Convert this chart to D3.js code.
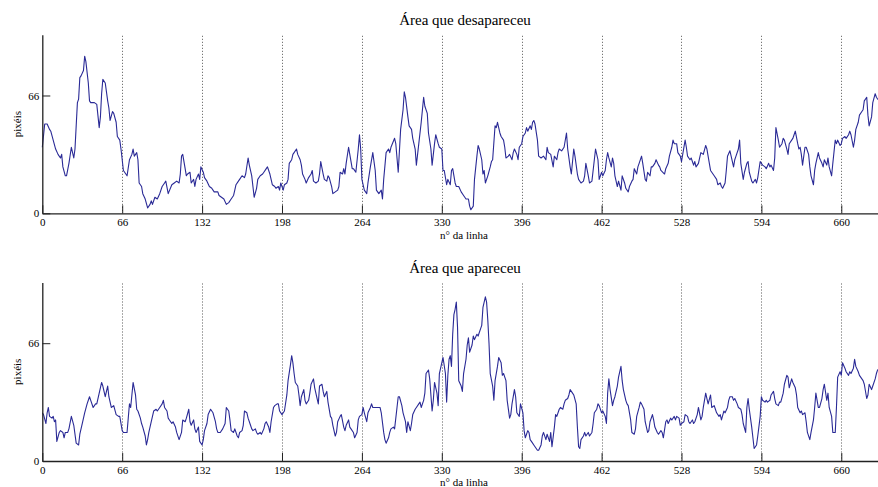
<!DOCTYPE html>
<html>
<head>
<meta charset="utf-8">
<script src="https://cdn.jsdelivr.net/npm/d3@7"></script>
<style>
  html, body { margin: 0; padding: 0; background: #fff; }
  svg { display: block; }
  text { font-family: "Liberation Serif", "Times New Roman", serif; fill: #000; }
</style>
</head>
<body>
<svg id="chart" width="878" height="487"></svg>
<script>
// Pixel counts per image line: [line number, pixels]
const serieDesapareceu = [
  [0,37],[2,50],[4,50],[6,47],[7,46],[9,41],[11,36],[13,33],[15,31],[16,33],[17,26],[19,21],[20,21],[22,28],[24,37],[26,31],[27,36],[28,49],[29,62],[30,64],[31,76],[32,77],[34,80],[35,88],[36,85],[38,73],[39,63],[40,62],[43,62],[45,61],[47,48],[48,54],[49,67],[50,75],[52,73],[54,63],[55,59],[56,52],[58,57],[59,56],[61,51],[62,43],[64,41],[65,36],[67,24],[69,22],[70,21],[72,30],[74,33],[75,36],[76,32],[78,34],[79,30],[80,17],[82,15],[83,11],[85,8],[87,3],[89,5],[90,7],[91,5],[93,9],[95,8],[97,11],[99,15],[101,17],[102,18],[104,11],[107,16],[109,17],[111,18],[113,17],[114,22],[115,32],
  [116,33],[118,25],[119,21],[120,22],[122,23],[123,17],[125,19],[126,15],[127,19],[129,22],[130,19],[131,26],[133,23],[134,20],[136,18],[138,15],[140,14],[141,13],[142,12],[145,12],[146,10],[148,9],[150,8],[152,5],[154,6],[156,8],[158,10],[159,13],[160,16],[162,18],[163,19],[165,21],[167,20],[168,22],[170,31],[171,27],[173,21],[174,15],[175,9],[177,14],[178,19],[180,21],[182,22],[183,23],[185,25],[186,26],[188,22],[190,16],[192,15],[193,14],[195,15],[196,13],[197,17],[199,13],[200,16],[202,17],[203,19],[204,28],[206,30],[207,33],[208,34],[210,36],[211,33],[213,30],[214,27],[215,22],[217,19],[218,17],[220,20],[222,22],[223,24],[224,18],[226,17],[228,18],
  [229,22],[230,29],[232,22],[233,19],[235,18],[236,21],[237,20],[239,15],[240,11],[242,12],[244,13],[245,15],[246,23],[248,22],[249,25],[250,22],[251,28],[253,37],[254,33],[256,25],[257,25],[259,23],[261,36],[262,44],[263,36],[264,19],[266,13],[268,11],[269,17],[271,26],[273,34],[275,24],[276,13],[278,11],[280,13],[281,8],[282,19],[284,34],[286,36],[287,34],[288,37],[291,42],[292,39],[294,23],[296,47],[298,58],[299,68],[300,65],[302,54],[303,49],[305,47],[306,42],[308,36],[309,27],[311,39],[313,51],[314,58],[315,65],[316,60],[318,56],[319,45],[321,36],[322,27],[324,39],[325,44],[327,39],[328,37],[330,36],[331,24],[332,24],[334,16],[335,19],[337,16],[338,24],[339,25],[341,17],[342,15],[344,15],[346,12],[348,10],
  [350,8],[352,8],[353,4],[354,2],[356,4],[357,19],[359,32],[360,38],[361,36],[363,30],[364,22],[365,24],[366,17],[368,21],[370,26],[371,29],[372,30],[374,49],[375,48],[376,51],[378,45],[379,43],[381,41],[382,37],[383,31],[385,32],[386,33],[388,30],[389,34],[390,36],[392,33],[393,30],[394,37],[396,39],[397,43],[399,45],[400,48],[401,46],[403,49],[404,47],[405,51],[406,52],[407,50],[409,41],[410,32],[412,31],[414,32],[416,30],[417,37],[418,34],[420,33],[422,26],[423,32],[425,30],[426,34],[427,36],[429,35],[431,37],[433,45],[434,36],[436,26],[437,22],[439,36],[440,32],[442,22],[443,19],[445,17],[447,18],[448,21],[449,28],[451,21],[452,17],[454,18],[455,24],[457,36],[459,30],
  [460,19],[462,23],[463,21],[465,24],[466,30],[467,34],[468,31],[470,26],[471,31],[472,28],[473,21],[475,15],[476,18],[478,13],[479,21],[481,17],[482,14],[484,12],[485,15],[487,18],[488,19],[489,25],[491,22],[492,26],[493,28],[495,32],[496,28],[498,19],[499,18],[500,23],[502,21],[503,26],[504,26],[506,28],[507,30],[509,27],[510,26],[511,24],[514,22],[515,25],[517,28],[518,32],[520,37],[521,41],[522,39],[524,39],[525,34],[527,32],[528,29],[529,33],[531,41],[532,37],[533,32],[535,30],[536,31],[538,27],[539,29],[540,26],[542,28],[543,31],[544,34],[546,33],[548,38],[549,36],[551,28],[552,24],[554,22],[555,21],[557,19],[558,16],[560,17],[561,15],[562,14],[564,17],[565,24],[566,32],[568,35],[569,32],[571,26],[572,30],[573,32],[575,36],[576,41],
  [577,28],[579,19],[580,23],[582,28],[583,29],[584,23],[586,18],[587,17],[589,19],[590,17],[591,20],[593,29],[594,28],[595,27],[597,26],[598,25],[600,28],[601,26],[602,27],[604,24],[605,31],[606,48],[608,41],[609,37],[611,39],[612,42],[613,41],[615,36],[616,33],[617,39],[619,41],[620,42],[621,44],[622,46],[624,39],[625,36],[626,37],[627,33],[628,27],[630,37],[631,37],[633,33],[634,26],[635,21],[637,16],[638,24],[639,28],[641,34],[642,31],[644,28],[645,26],[646,30],[648,27],[649,31],[650,26],[652,21],[653,28],[655,41],[656,39],[657,41],[659,38],[660,39],[661,42],[663,43],[664,42],[666,44],[667,46],[668,44],[670,37],[671,41],[672,47],[674,51],[675,55],[677,57],[678,58],[679,63],[681,65],[682,55],[683,49],[685,54],[686,62],[688,67],[689,65],[690,64],[692,63]
];

const serieApareceu = [
  [0,27],[1,26],[3,21],[4,27],[5,30],[6,25],[8,24],[9,25],[10,22],[11,23],[12,11],[14,16],[15,17],[17,16],[18,13],[19,16],[21,16],[22,18],[24,25],[26,20],[28,10],[30,9],[31,15],[33,21],[35,27],[37,32],[39,36],[40,34],[42,30],[44,32],[45,32],[47,38],[49,44],[50,42],[52,36],[54,42],[55,36],[57,30],[59,31],[61,26],[63,25],[64,25],[66,17],[67,16],[70,16],[71,24],[72,32],[73,30],[74,37],[75,44],[77,37],[78,29],[79,28],[81,24],[82,21],[83,19],[85,14],[86,9],[87,12],[88,16],[90,22],[92,28],[94,29],[95,28],[97,30],[99,32],[100,34],[101,30],[103,28],[104,24],[105,23],[107,21],[108,22],[110,19],[111,16],[113,12],[115,16],[116,23],[118,22],[119,24],[121,29],[122,22],[123,20],[125,23],[126,18],[127,16],[129,19],[130,11],[132,9],[133,12],[134,17],[136,21],[137,26],[139,29],[141,27],[143,22],[144,18],[145,16],[147,16],[149,18],[151,21],[152,30],[154,28],[155,23],[156,17],[158,16],[159,18],[161,14],[162,13],[163,16],[165,17],[166,20],[167,28],[169,27],[170,24],[172,20],[173,18],[174,17],[176,18],[177,16],[178,15],[180,16],[181,15],[183,18],[184,21],[185,22],[187,19],[188,16],[189,22],[191,30],[192,31],[194,32],[195,32],[196,28],[198,26],[199,27],[200,28],[202,37],[203,45],[205,54],[206,59],[207,55],[208,49],[209,44],[211,42],[212,37],[213,31],
  [214,36],[216,40],[217,34],[218,32],[220,34],[221,38],[222,43],[224,46],[225,41],[227,35],[228,32],[229,42],[231,43],[232,39],[233,36],[235,39],[236,33],[238,25],[239,24],[240,20],[242,14],[243,16],[244,22],[246,25],[247,26],[249,19],[250,17],[251,20],[253,23],[254,19],[255,18],[257,16],[258,13],[260,16],[261,23],[262,25],[264,26],[265,30],[266,27],[268,22],[269,27],[271,30],[272,32],[273,30],[275,30],[276,30],[277,30],[279,30],[280,27],[282,16],[283,12],[284,10],[286,13],[287,16],[288,18],[290,19],[291,18],[293,30],[294,36],[295,36],[297,31],[298,27],[300,22],[301,16],[302,22],[304,17],[305,21],[306,26],[308,29],[309,30],[311,32],[312,33],[313,30],[315,34],[316,38],[317,49],[319,51],[320,46],[322,28],[323,34],[324,44],[326,38],[327,31],[328,49],[330,55],[331,58],[333,49],[334,33],[335,48],[336,57],[337,59],[338,53],[339,71],[340,82],[341,85],[342,89],[343,75],[344,45],[346,42],[347,39],[348,49],[350,57],[351,65],[352,69],[353,61],[355,65],[356,70],[357,68],[359,71],[360,70],[362,74],[363,76],[364,86],[366,92],[367,89],[368,79],[369,66],[370,49],[372,42],[373,34],[374,45],[376,53],[377,58],[379,55],[380,48],[381,49],[383,45],[384,34],[386,24],[387,26],[388,32],[390,40],[391,36],[392,27],[394,25],[395,32],[397,27],[398,17],[399,13],[401,17],[402,16],[403,12],[405,10],[406,9],[408,7],[409,6],[410,6],[412,9],[413,14],[414,16],[416,12],[417,15],[419,11],[420,16],[421,8],[423,19],[424,26],[425,25],[427,29],[428,30],[430,29],[431,32],[432,34],[434,35],[435,37],[436,40],[438,38],[439,37],[441,32],[442,19],[443,8],
  [444,7],[445,12],[447,14],[448,16],[449,14],[451,16],[452,14],[454,16],[455,21],[456,27],[458,29],[459,32],[460,31],[462,27],[463,28],[465,25],[466,21],[467,38],[468,46],[469,40],[471,31],[472,34],[473,36],[475,42],[476,47],[478,53],[479,45],[480,40],[482,34],[483,32],[484,31],[486,23],[487,16],[489,15],[490,18],[491,25],[493,30],[494,33],[495,32],[497,29],[498,22],[500,16],[501,17],[502,22],[504,26],[505,23],[506,19],[508,16],[509,15],[511,17],[512,16],[513,13],[515,22],[516,23],[517,21],[519,24],[520,23],[522,25],[523,23],[524,25],[526,24],[527,20],[528,21],[530,22],[531,26],[533,25],[534,22],[535,21],[537,23],[538,21],[539,22],[541,26],[542,30],[544,23],[545,25],[546,30],[548,38],[549,35],[550,32],[552,37],[553,30],[555,31],[556,29],[557,27],[559,25],[560,26],[561,23],[563,28],[564,27],[566,30],[567,34],[568,36],[570,36],[571,34],[572,35],[574,32],[575,30],[577,29],[578,26],[579,21],[581,16],[582,30],[583,35],[584,29],[586,19],[587,13],[588,7],[590,9],[591,14],[593,25],[594,36],[595,34],[597,33],[598,34],[599,33],[601,34],[602,37],[604,39],[605,35],[606,32],[608,31],[609,33],[610,33],[612,38],[613,43],[615,48],[616,47],[617,41],[619,46],[620,44],[622,41],[623,37],[624,30],[626,27],[627,28],[628,26],[630,27],[631,22],[632,16],[634,12],[635,16],[637,23],[638,30],[639,38],[641,30],[642,30],[644,35],[645,40],[646,43],[648,34],[649,38],[650,30],[652,25],[653,16],[655,16],[656,30],[657,47],[659,50],[660,48],[661,55],[663,52],[664,50],[666,48],[667,50],[668,49],[670,52],[671,57],[672,53],[674,50],[675,48],[677,46],[678,45],[679,43],[681,35],[682,37],[683,43],[685,40],[686,42],[688,46],[689,49],[690,51],[692,52]
];

const xTicks = [0, 66, 132, 198, 264, 330, 396, 462, 528, 594, 660];
const yTicks = [0, 66];
const titulos = ["Área que desapareceu", "Área que apareceu"];
const rotuloX = "n° da linha";
const rotuloY = "pixéis";

const svg = d3.select("#chart");
const left = 42.3, pxPerLine = 1.2106;
const lineMax = 692;
const panelHeight = 178.5, panelStep = 247.7, firstBottom = 213.3;
const serif = '"Liberation Serif", "Times New Roman", serif';

const x = d3.scaleLinear().domain([0, lineMax]).range([left, left + lineMax * pxPerLine]);

const panels = [
  { titulo: titulos[0], serie: serieDesapareceu },
  { titulo: titulos[1], serie: serieApareceu }
];

panels.forEach((p, i) => {
  const bottom = firstBottom + i * panelStep;
  const top = bottom - panelHeight;
  const y = d3.scaleLinear().domain([0, 100]).range([bottom, top]);
  const g = svg.append("g");

  // dotted vertical grid at each line tick
  g.append("g").selectAll("line")
    .data(xTicks.filter(t => t > 0))
    .join("line")
    .attr("x1", d => Math.round(x(d)) + 0.5).attr("x2", d => Math.round(x(d)) + 0.5)
    .attr("y1", top + 1).attr("y2", bottom)
    .attr("stroke", "#555").attr("stroke-width", 1)
    .attr("stroke-dasharray", "1,2");

  // series line
  g.append("path")
    .datum(p.serie)
    .attr("fill", "none")
    .attr("stroke", "#2a2a96")
    .attr("stroke-width", 1.1)
    .attr("stroke-linejoin", "round")
    .attr("d", d3.line().x(d => x(d[0])).y(d => y(d[1])));

  // bottom axis, ticks pointing inward
  const ax = g.append("g")
    .attr("transform", `translate(0,${bottom})`)
    .call(d3.axisBottom(x).tickValues(xTicks).tickFormat(d3.format("d"))
      .tickSizeInner(-8).tickSizeOuter(0).tickPadding(5));
  ax.attr("font-family", serif);
  ax.select(".domain").attr("stroke", "#222").attr("stroke-width", 1.3);
  ax.selectAll(".tick line").attr("stroke", "#222");
  ax.selectAll(".tick text").style("font-size", "11px").style("font-family", serif);

  // left axis
  const ay = g.append("g")
    .attr("transform", `translate(${left},0)`)
    .call(d3.axisLeft(y).tickValues(yTicks).tickFormat(d3.format("d"))
      .tickSizeInner(-8).tickSizeOuter(0).tickPadding(3));
  ay.attr("font-family", serif);
  ay.select(".domain").attr("stroke", "#222").attr("stroke-width", 1.3);
  ay.selectAll(".tick line").attr("stroke", "#222");
  ay.selectAll(".tick text").style("font-size", "11px").style("font-family", serif);

  // title
  g.append("text")
    .attr("x", 465).attr("y", top - 10)
    .attr("text-anchor", "middle")
    .style("font-size", "15px")
    .text(p.titulo);

  // x label
  g.append("text")
    .attr("x", 464).attr("y", bottom + 25.3)
    .attr("text-anchor", "middle")
    .style("font-size", "11px")
    .text(rotuloX);

  // y label
  g.append("text")
    .attr("transform", `translate(21,${(top + bottom) / 2}) rotate(-90)`)
    .attr("text-anchor", "middle")
    .style("font-size", "11px")
    .text(rotuloY);
});
</script>
</body>
</html>
